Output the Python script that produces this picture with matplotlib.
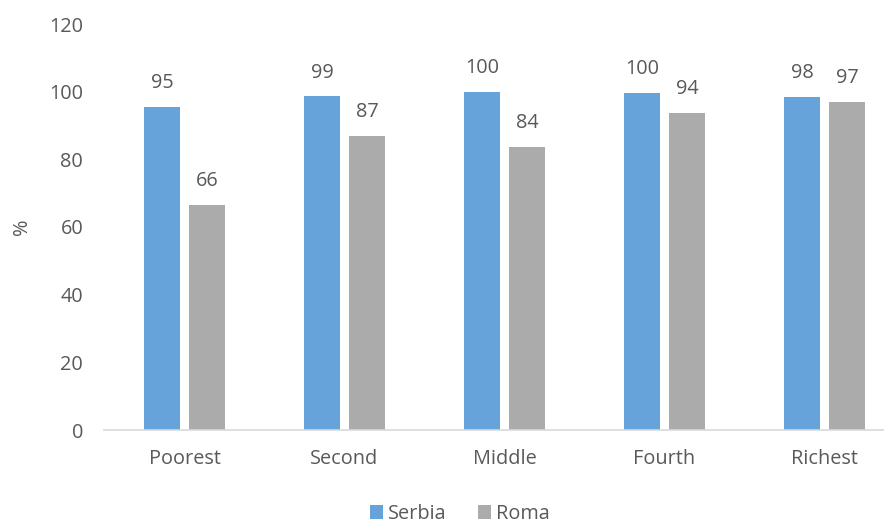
import matplotlib
matplotlib.use("Agg")
import matplotlib.pyplot as plt
import numpy as np

categories = ["Poorest", "Second", "Middle", "Fourth", "Richest"]
serbia = [95.4, 98.6, 100.0, 99.6, 98.4]
roma = [66.4, 86.8, 83.7, 93.6, 97.0]
yticks = [0, 20, 40, 60, 80, 100, 120]

plt.rcParams['font.family'] = ['Open Sans', 'DejaVu Sans']
txt = '#595959'
blue = '#65A3DA'
gray = '#ABABAB'
fs = 14.3

W, H = 884, 524
fig = plt.figure(figsize=(W/100, H/100), dpi=100)
ax = fig.add_axes([104/W, 94/H, (W-104)/W, 406/H])

x = np.arange(len(categories))
bw = 0.225
off = 0.14
b1 = ax.bar(x - off, serbia, bw, color=blue, label='Serbia')
b2 = ax.bar(x + off, roma, bw, color=gray, label='Roma')

for bars, vals in ((b1, serbia), (b2, roma)):
    for r, v in zip(bars, vals):
        ax.annotate(f"{v:.0f}", (r.get_x() + r.get_width()/2, v),
                    xytext=(0, 10), textcoords='offset points',
                    ha='center', va='bottom', fontsize=fs, color=txt)

ax.set_xlim(-0.503, 4.372)
ax.set_ylim(0, 120)
ax.set_yticks(yticks)
ax.set_xticks(x)
ax.set_xticklabels(categories)
ax.tick_params(axis='both', length=0, labelsize=fs, colors=txt)
ax.tick_params(axis='y', pad=15)
ax.tick_params(axis='x', pad=14)
for s in ['top', 'right', 'left']:
    ax.spines[s].set_visible(False)
ax.spines['bottom'].set_color('#D9D9D9')
ax.spines['bottom'].set_linewidth(1.2)
ax.set_ylabel('%', fontsize=fs, color=txt, labelpad=12)

fig.legend(handles=[b1, b2], loc='center', bbox_to_anchor=(460/W, 1 - 514/H),
           ncol=2, frameon=False, fontsize=fs, handlelength=0.65, handleheight=0.65,
           handletextpad=0.25, columnspacing=1.6, labelcolor=txt)

fig.savefig('out.png', dpi=100)
